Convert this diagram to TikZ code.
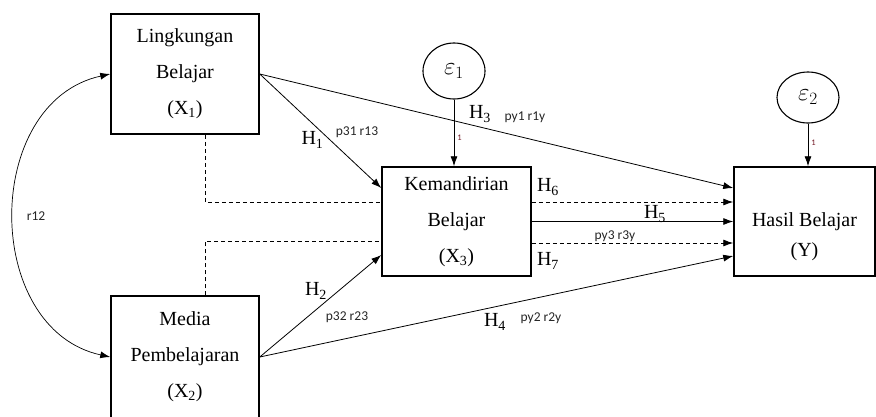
\documentclass[tikz,border=0pt]{standalone}
\usepackage{fontspec}
\setmainfont{Liberation Serif}
\newfontfamily\labfont{Carlito}
\usetikzlibrary{arrows.meta,shapes.geometric}
\definecolor{onecol}{rgb}{0.45,0.1,0.15}
\begin{document}
\begin{tikzpicture}[x=1pt,y=-1pt,
  box/.style={draw,line width=1.5pt,align=center,inner sep=0pt,
    font=\fontsize{20}{36}\selectfont},
  errnode/.style={draw,ellipse,line width=1.1pt,minimum width=62pt,inner sep=0pt,
    font=\fontsize{23}{26}\selectfont},
  arr/.style={-{Latex[length=10pt,width=7pt]},line width=0.8pt},
  dsh/.style={line width=0.8pt,dash pattern=on 4pt off 3pt},
  darr/.style={arr,dash pattern=on 4pt off 3pt},
  hlab/.style={font=\fontsize{20}{24}\selectfont,inner sep=0pt},
  plab/.style={font=\labfont\fontsize{13.5}{15}\selectfont,text=black!85,inner sep=0pt},
  onelab/.style={font=\labfont\fontsize{8.5}{9}\selectfont,text=onecol,inner sep=0pt}
]
\useasboundingbox (0,0) rectangle (876,416);
\clip (0,0) rectangle (876,416);

% boxes
\node[box,minimum width=148pt,minimum height=120pt] (x1) at (185,74)
  {Lingkungan\\Belajar\\(X\textsubscript{1})};
\node[box,minimum width=148pt,minimum height=122pt] (x2) at (185,357)
  {Media\\Pembelajaran\\(X\textsubscript{2})};
\node[box,minimum width=149pt,minimum height=109pt] (x3) at (456.5,221.5)
  {Kemandirian\\Belajar\\(X\textsubscript{3})};
\node[box,minimum width=141pt,minimum height=109pt] (y) at (804.5,221.5) {};
\node[font=\fontsize{20}{30}\selectfont,align=center,inner sep=0pt] (ytxt) at (804.5,237)
  {Hasil Belajar\\(Y)};

% error terms
\node[errnode,minimum height=56pt] (e1) at (454,71) {$\varepsilon_1$};
\node[errnode,minimum height=51pt] (e2) at (808,97.5) {$\varepsilon_2$};

% error arrows
\draw[arr] (e1.south) -- (e1.south |- x3.north);
\draw[arr] (e2.south) -- (e2.south |- y.north);

% direct paths
\draw[arr] (x1.east) -- ([yshift=33.5pt]x3.west);
\draw[arr] (x1.east) -- ([yshift=33.5pt]y.west);
\draw[arr] (x2.east) -- ([yshift=-33.5pt]x3.west);
\draw[arr] (x2.east) -- ([yshift=-34.5pt]y.west);
\draw[arr] (x3.east) -- (y.west);

% mediated (dashed) paths
\draw[dsh] ([xshift=20pt]x1.south) |- ([yshift=19.5pt]x3.west);
\draw[dsh] ([xshift=20pt]x2.north) |- ([yshift=-20pt]x3.west);
\draw[darr] ([yshift=19.5pt]x3.east) -- ([yshift=19.5pt]y.west);
\draw[darr] ([yshift=-21.5pt]x3.east) -- ([yshift=-21.5pt]y.west);

% correlation
\draw[{Latex[length=10pt,width=7pt]}-{Latex[length=10pt,width=7pt]},line width=0.7pt]
  (x1.west) .. controls (-18,102) and (-18,329) .. (x2.west);

% labels
\node[plab] (r12) at (36,216) {r12};
\node[hlab] (h1) at (312.5,140) {H\textsubscript{1}};
\node[plab] (l1) at (357,132) {p31 r13};
\node[hlab] (h3) at (480,114) {H\textsubscript{3}};
\node[plab] (l3) at (525,117) {py1 r1y};
\node[hlab] (h6) at (548,187) {H\textsubscript{6}};
\node[hlab] (h5) at (655,214) {H\textsubscript{5}};
\node[plab] (l5) at (615,236) {py3 r3y};
\node[hlab] (h7) at (548,261) {H\textsubscript{7}};
\node[hlab] (h2) at (316,291) {H\textsubscript{2}};
\node[plab] (l2) at (347,317) {p32 r23};
\node[hlab] (h4) at (495,322) {H\textsubscript{4}};
\node[plab] (l4) at (541,318) {py2 r2y};
\node[onelab] (o1) at (459.5,138) {1};
\node[onelab] (o2) at (813.5,143) {1};
\end{tikzpicture}
\end{document}
